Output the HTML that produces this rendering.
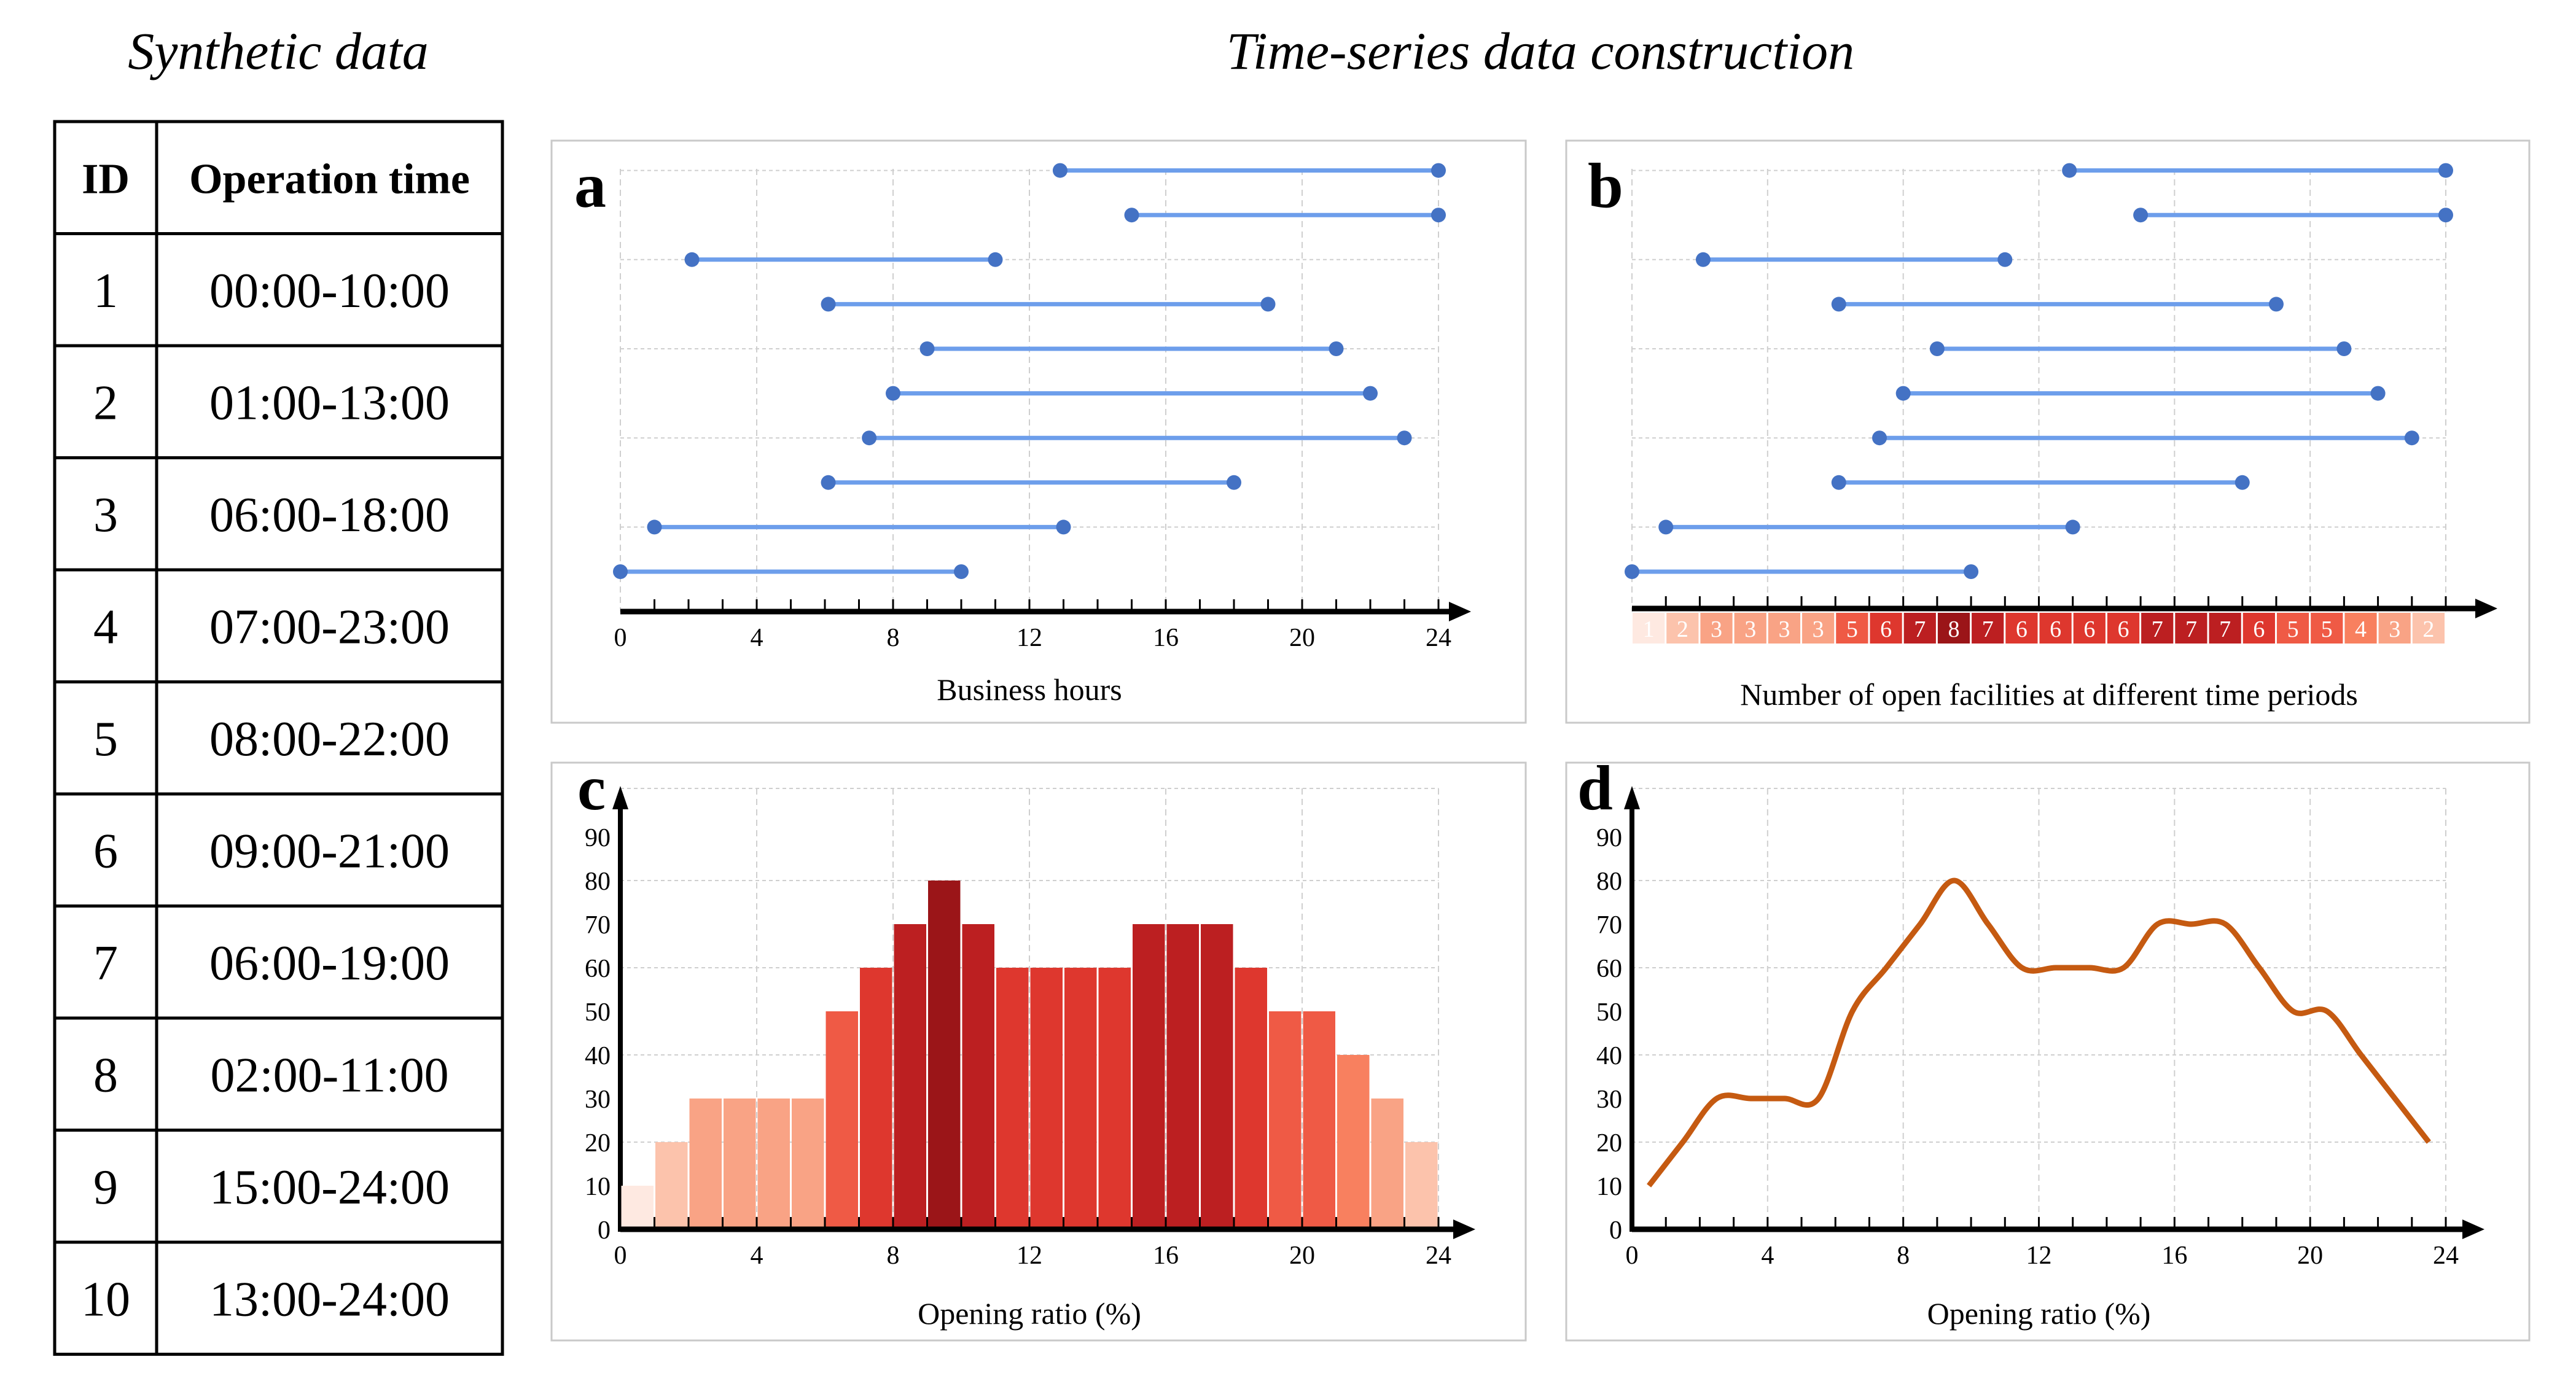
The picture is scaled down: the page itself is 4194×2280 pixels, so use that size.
<!DOCTYPE html>
<html><head><meta charset="utf-8"><style>
html,body{margin:0;padding:0;background:#fff}
svg{display:block}
text{font-family:"Liberation Serif",serif}
</style></head><body>
<svg id="fig" xmlns="http://www.w3.org/2000/svg" width="4194" height="2280" viewBox="0 0 4194 2280">
<text x="453" y="112" font-size="86" font-style="italic" text-anchor="middle">Synthetic data</text>
<text x="2508" y="112" font-size="86" font-style="italic" text-anchor="middle">Time-series data construction</text>
<g id="table"></g>
<g id="pa"></g>
<g id="pb"></g>
<g id="pc"></g>
<g id="pd"></g>
</svg>
<script>
const ids = [1,2,3,4,5,6,7,8,9,10];
const opTimes = ["00:00-10:00","01:00-13:00","06:00-18:00","07:00-23:00","08:00-22:00","09:00-21:00","06:00-19:00","02:00-11:00","15:00-24:00","13:00-24:00"];
const startHours = [0,1,6.1,7.3,8,9,6.1,2.1,15,12.9];
const endHours = [10,13,18,23,22,21,19,11,24,24];
const counts = [1,2,3,3,3,3,5,6,7,8,7,6,6,6,6,7,7,7,6,5,5,4,3,2];
const ratios = [10,20,30,30,30,30,50,60,70,80,70,60,60,60,60,70,70,70,60,50,50,40,30,20];
const xTicks = ["0","4","8","12","16","20","24"];
const yTicks = ["0","10","20","30","40","50","60","70","80","90"];
const palette = {1:"#fee9e1",2:"#fcc3ac",3:"#f9a385",4:"#f8805f",5:"#ef5a45",6:"#de372e",7:"#bc1f21",8:"#9b1518"};

const NS="http://www.w3.org/2000/svg";
function mk(parent,tag,attrs,txt){const e=document.createElementNS(NS,tag);for(const k in attrs)e.setAttribute(k,attrs[k]);if(txt!==undefined)e.textContent=txt;parent.appendChild(e);return e;}

// ---------- table ----------
const T=document.getElementById('table');
const tx0=89,tx1=255,tx2=818,ty0=198,rh=182.5;
{
 const r=mk(T,'rect',{x:tx0,y:ty0,width:tx2-tx0,height:rh*11,fill:'none',stroke:'#000','stroke-width':5});
 
 const l=mk(T,'line',{x1:tx1,y1:ty0,x2:tx1,y2:ty0+rh*11,stroke:'#000','stroke-width':5});
 
 for(let i=1;i<11;i++){const h=mk(T,'line',{x1:tx0,y1:ty0+rh*i,x2:tx2,y2:ty0+rh*i,stroke:'#000','stroke-width':5});
  }
 let t=mk(T,'text',{x:(tx0+tx1)/2,y:ty0+rh/2+25,'font-size':70,'font-weight':'bold','text-anchor':'middle'},'ID');
 
 t=mk(T,'text',{x:(tx1+tx2)/2,y:ty0+rh/2+25,'font-size':70,'font-weight':'bold','text-anchor':'middle'},'Operation time');
 
 ids.forEach((id,i)=>{const cy=ty0+rh*(i+1)+rh/2+28;
  let a=mk(T,'text',{x:(tx0+tx1)/2,y:cy,'font-size':80,'text-anchor':'middle'},String(id));
  
  let b=mk(T,'text',{x:(tx1+tx2)/2,y:cy,'font-size':80,'text-anchor':'middle'},opTimes[i]);
  });
}

// ---------- common axis helpers ----------
function frame(g,x0,y0,x1,y1){const r=mk(g,'rect',{x:x0,y:y0,width:x1-x0,height:y1-y0,fill:'#fff',stroke:'#c9c9c9','stroke-width':3});
 }
function label(g,x,y,s){const t=mk(g,'text',{x:x,y:y,'font-size':104,'font-weight':'bold'},s);
 }
function xAxis(g,X,ax,axisY,title,titleY){
 for(let h=1;h<=24;h++){const tk=mk(g,'line',{x1:X(h),y1:axisY,x2:X(h),y2:axisY-20,stroke:'#000','stroke-width':3});
  }
 const l=mk(g,'line',{x1:X(0),y1:axisY,x2:ax-30,y2:axisY,stroke:'#000','stroke-width':9});
 
 const p=mk(g,'polygon',{points:`${ax-36},${axisY-16} ${ax},${axisY} ${ax-36},${axisY+16}`,fill:'#000'});
 
 xTicks.forEach(s=>{const t=mk(g,'text',{x:X(+s),y:axisY+56,'font-size':42,'text-anchor':'middle'},s);
  });
 const t=mk(g,'text',{x:(X(0)+X(24))/2,y:titleY,'font-size':50,'text-anchor':'middle'},title);
 
}
function vgrid(g,X,top,bot){xTicks.forEach(s=>{const l=mk(g,'line',{x1:X(+s),y1:top,x2:X(+s),y2:bot,stroke:'#cfcfcf','stroke-width':2,'stroke-dasharray':'10 7'});
 });}
function hline(g,x0,x1,y){const l=mk(g,'line',{x1:x0,y1:y,x2:x1,y2:y,stroke:'#cfcfcf','stroke-width':2,'stroke-dasharray':'6 5'});
 }

// ---------- panels a & b ----------
const rowY0=931,rowStep=72.6; // bottom row (ID1) baseline spacing
function intervals(g,X){
 vgrid(g,X,275,996);
 ids.forEach((id,i)=>{ if(i%2===1) hline(g,X(0),X(24),rowY0-rowStep*i); });
 ids.forEach((id,i)=>{const y=rowY0-rowStep*i;
  const l=mk(g,'line',{x1:X(startHours[i]),y1:y,x2:X(endHours[i]),y2:y,stroke:'#6d9eeb','stroke-width':7});
  
  [startHours[i],endHours[i]].forEach(v=>{const c=mk(g,'circle',{cx:X(v),cy:y,r:12,fill:'#4472c4'});
   });
 });
}
{
 const g=document.getElementById('pa');frame(g,898,229,2484,1177);
 const X=h=>1010+h*(2342-1010)/24;
 intervals(g,X);xAxis(g,X,2395,996,'Business hours',1140);label(g,935,337,'a');
}
{
 const g=document.getElementById('pb');frame(g,2550,229,4118,1177);
 const X=h=>2657+h*(3982-2657)/24;
 intervals(g,X);
 counts.forEach((c,i)=>{const x=X(i)+1,w=X(i+1)-X(i)-3;
  const r=mk(g,'rect',{x:x,y:998,width:w,height:50,fill:palette[c]});
  
  const t=mk(g,'text',{x:x+w/2,y:1037,'font-size':38,fill:'#fff','text-anchor':'middle'},String(c));
  });
 // axis without tick labels
 for(let h=1;h<=24;h++){const tk=mk(g,'line',{x1:X(h),y1:991,x2:X(h),y2:971,stroke:'#000','stroke-width':3});
  }
 const l=mk(g,'line',{x1:X(0),y1:991,x2:4035,y2:991,stroke:'#000','stroke-width':9});
 
 const p=mk(g,'polygon',{points:`4030,975 4066,991 4030,1007`,fill:'#000'});
 
 const t=mk(g,'text',{x:3336,y:1148,'font-size':50,'text-anchor':'middle'},'Number of open facilities at different time periods');
 
 label(g,2585,337,'b');
}

// ---------- panels c & d ----------
function ratioAxes(g,X,Y,x0){
 vgrid(g,X,1284,2002);
 [20,40,60,80].forEach(v=>hline(g,X(0),X(24),Y(v)));hline(g,X(0),X(24),1284);
 const ya=mk(g,'line',{x1:x0,y1:2006,x2:x0,y2:1310,stroke:'#000','stroke-width':8});
 
 const yp=mk(g,'polygon',{points:`${x0-13},1318 ${x0},1280 ${x0+13},1318`,fill:'#000'});
 
 yTicks.forEach(s=>{const t=mk(g,'text',{x:x0-16,y:Y(+s)+15,'font-size':42,'text-anchor':'end'},s);
  });
}
{
 const g=document.getElementById('pc');frame(g,898,1242,2484,2183);
 const X=h=>1010+h*(2342-1010)/24, Y=v=>2002-v*(2002-1363)/90;
 ratioAxes(g,X,Y,1010);
 ratios.forEach((v,i)=>{const r=mk(g,'rect',{x:X(i)+1.5,y:Y(v),width:X(i+1)-X(i)-3,height:2002-Y(v),fill:palette[counts[i]]});
  });
 xAxis(g,X,2402,2002,'Opening ratio (%)',2156);label(g,940,1318,'c');
}
{
 const g=document.getElementById('pd');frame(g,2550,1242,4118,2183);
 const X=h=>2657+h*(3982-2657)/24, Y=v=>2002-v*(2002-1363)/90;
 ratioAxes(g,X,Y,2657);
 const pts=ratios.map((v,i)=>[X(i+0.5),Y(v)]);
 let d=`M${pts[0][0]},${pts[0][1]}`;
 for(let i=0;i<pts.length-1;i++){const p0=pts[Math.max(0,i-1)],p1=pts[i],p2=pts[i+1],p3=pts[Math.min(pts.length-1,i+2)];
  const c1=[p1[0]+(p2[0]-p0[0])/6,p1[1]+(p2[1]-p0[1])/6],c2=[p2[0]-(p3[0]-p1[0])/6,p2[1]-(p3[1]-p1[1])/6];
  d+=` C${c1[0]},${c1[1]} ${c2[0]},${c2[1]} ${p2[0]},${p2[1]}`;}
 const path=mk(g,'path',{d:d,fill:'none',stroke:'#c55a11','stroke-width':9,'stroke-linejoin':'round'});
 
 xAxis(g,X,4045,2002,'Opening ratio (%)',2156);label(g,2568,1318,'d');
}
</script>
</body></html>
